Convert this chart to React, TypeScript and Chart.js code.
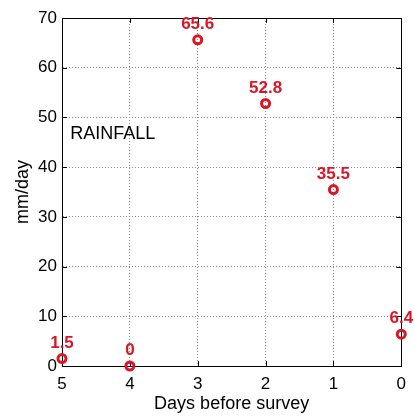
import React, { useEffect, useRef } from "react";
import { Chart, registerables } from "chart.js";

Chart.register(...registerables);

const daysBefore = [5, 4, 3, 2, 1, 0];
const rainfall = [1.5, 0, 65.6, 52.8, 35.5, 6.4];
const pointLabels = ["1.5", "0", "65.6", "52.8", "35.5", "6.4"];
const annotationText = "RAINFALL";
const annotationPos = { x: 4.88, y: 45.7 };

const RED = "#dc1424";
const FONT = "Arial, 'Liberation Sans', Helvetica, sans-serif";

const boxPlugin = {
  id: "matlabBox",
  beforeDatasetsDraw(chart: any) {
    const { ctx, chartArea: a, scales } = chart;
    ctx.save();
    ctx.strokeStyle = "#000";
    ctx.lineWidth = 1;
    ctx.strokeRect(Math.round(a.left) + 0.5, Math.round(a.top) + 0.5, Math.round(a.right - a.left), Math.round(a.bottom - a.top));
    const tl = 5;
    ctx.beginPath();
    scales.x.ticks.forEach((t: any) => {
      const px = Math.round(scales.x.getPixelForValue(t.value)) + 0.5;
      ctx.moveTo(px, a.bottom);
      ctx.lineTo(px, a.bottom - tl);
      ctx.moveTo(px, a.top);
      ctx.lineTo(px, a.top + tl);
    });
    scales.y.ticks.forEach((t: any) => {
      const py = Math.round(scales.y.getPixelForValue(t.value)) + 0.5;
      ctx.moveTo(a.left, py);
      ctx.lineTo(a.left + tl, py);
      ctx.moveTo(a.right, py);
      ctx.lineTo(a.right - tl, py);
    });
    ctx.stroke();
    ctx.fillStyle = "#000";
    ctx.font = `18px ${FONT}`;
    ctx.textAlign = "left";
    ctx.textBaseline = "alphabetic";
    ctx.fillText(annotationText, scales.x.getPixelForValue(annotationPos.x), scales.y.getPixelForValue(annotationPos.y));
    ctx.restore();
  },
  afterDatasetsDraw(chart: any) {
    const { ctx } = chart;
    const meta = chart.getDatasetMeta(0);
    ctx.save();
    ctx.fillStyle = RED;
    ctx.font = `bold 17px ${FONT}`;
    ctx.textAlign = "center";
    ctx.textBaseline = "alphabetic";
    meta.data.forEach((el: any, i: number) => {
      ctx.fillText(pointLabels[i], el.x, el.y - 11);
    });
    ctx.restore();
  },
};

export default function App() {
  const ref = useRef<HTMLCanvasElement | null>(null);
  useEffect(() => {
    if (!ref.current) return;
    const chart = new Chart(ref.current, {
      type: "scatter",
      data: {
        datasets: [
          {
            data: daysBefore.map((d, i) => ({ x: d, y: rainfall[i] })),
            pointStyle: "circle",
            pointRadius: 4,
            pointBorderWidth: 3,
            pointBorderColor: RED,
            pointBackgroundColor: "rgba(255,255,255,0)",
            clip: false as any,
          },
        ],
      },
      options: {
        animation: false,
        responsive: true,
        maintainAspectRatio: false,
        layout: { padding: { top: 18, right: 9, left: 0, bottom: 0 } },
        plugins: { legend: { display: false }, tooltip: { enabled: false } },
        scales: {
          x: {
            type: "linear",
            min: 0,
            max: 5,
            reverse: true,
            afterFit: (s: any) => {
              s.height = 51;
            },
            ticks: { stepSize: 1, color: "#000", font: { size: 17, family: FONT }, padding: 8 },
            grid: { color: "#8c8c8c", lineWidth: 1, drawTicks: false },
            border: { display: true, color: "#000", dash: [1, 2] },
            title: {
              display: true,
              text: "Days before survey",
              color: "#000",
              font: { size: 18, family: FONT },
              padding: { top: 0, bottom: 2 },
            },
          },
          y: {
            type: "linear",
            min: 0,
            max: 70,
            afterFit: (s: any) => {
              s.width = 62;
            },
            ticks: { stepSize: 10, color: "#000", font: { size: 17, family: FONT }, padding: 5 },
            grid: { color: "#8c8c8c", lineWidth: 1, drawTicks: false },
            border: { display: true, color: "#000", dash: [1, 2] },
            title: {
              display: true,
              text: "mm/day",
              color: "#000",
              font: { size: 18, family: FONT },
              padding: { top: 12, bottom: 0 },
            },
          },
        },
      },
      plugins: [boxPlugin],
    });
    return () => chart.destroy();
  }, []);
  return (
    <div style={{ position: "absolute", left: 0, top: 0, width: 414, height: 417, background: "#fff" }}>
      <canvas ref={ref} />
    </div>
  );
}
